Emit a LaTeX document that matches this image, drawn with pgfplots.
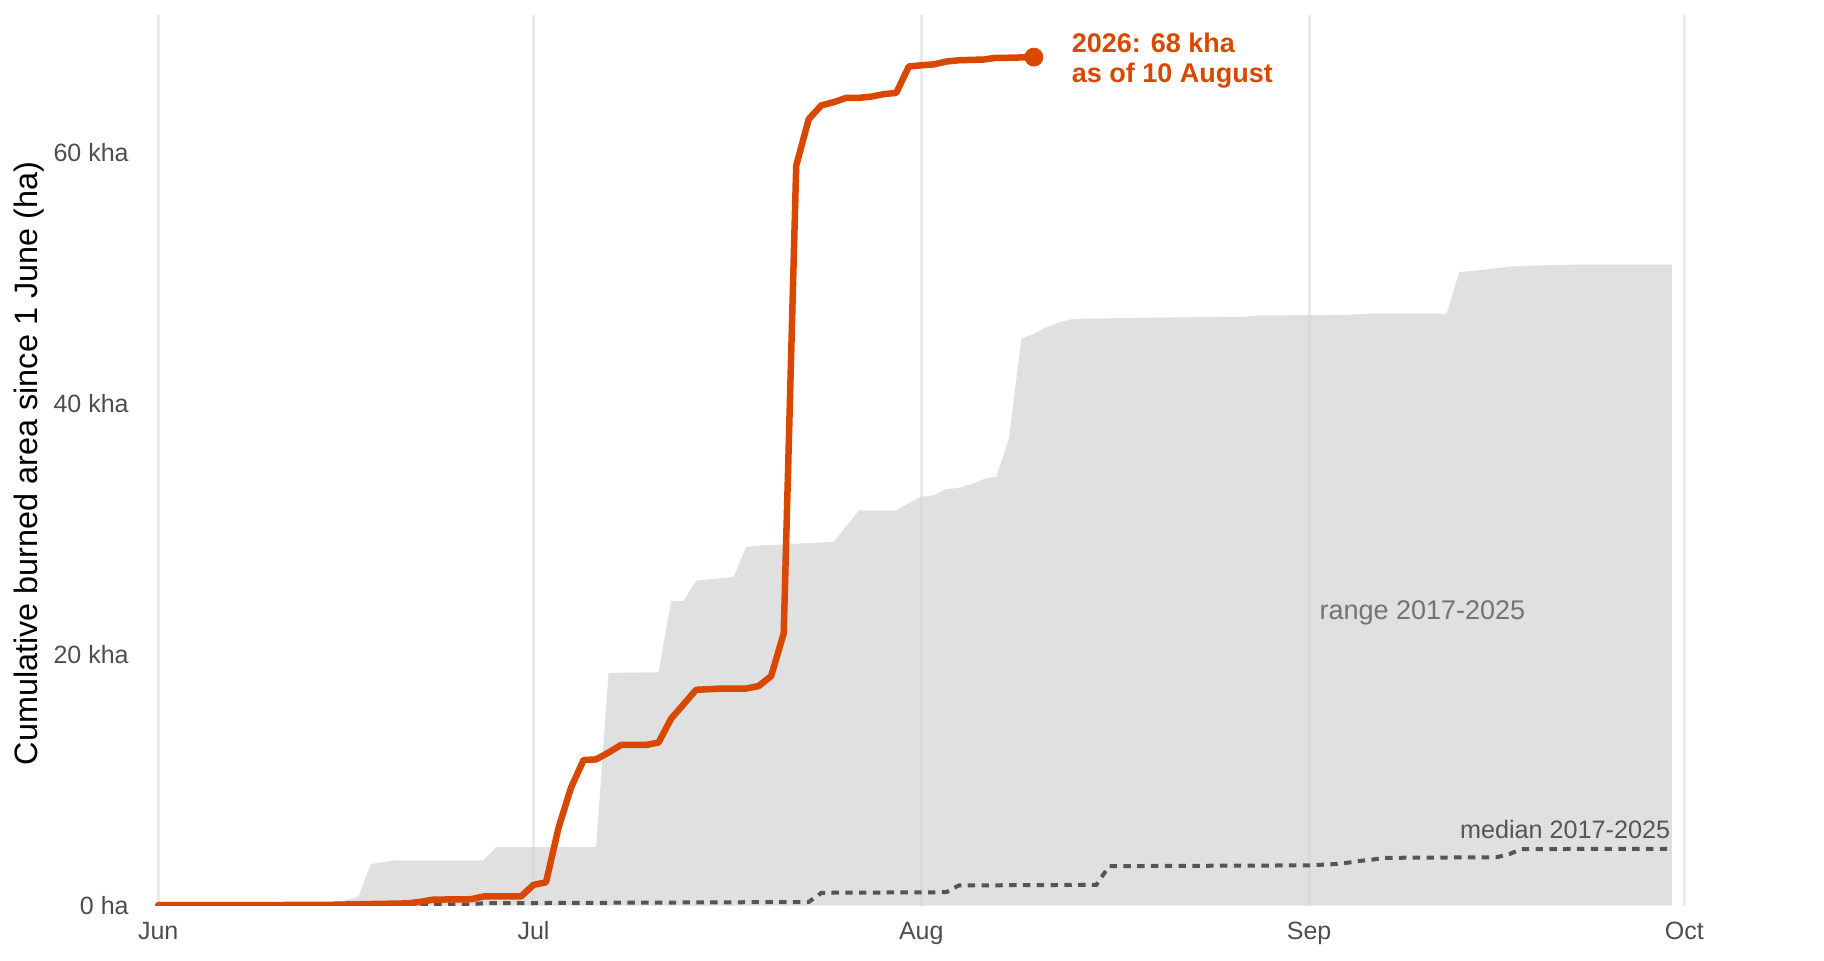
\documentclass[border=0pt]{standalone}
\usepackage{pgfplots}
\pgfplotsset{compat=1.18}
\usepackage{fontspec}
\setmainfont{Liberation Sans}
\definecolor{fireorange}{HTML}{D94801}
\definecolor{ribbonc}{HTML}{D3D3D3}
\definecolor{gridc}{HTML}{EBEBEB}
\definecolor{tickc}{HTML}{4D4D4D}
\definecolor{medc}{HTML}{555555}
\definecolor{rangetext}{HTML}{737373}

\pgfplotstableread{
day val
0 0
8 0.05
12 0.15
14 0.3
15 0.42
16 0.7
17 3.3
18 3.46
19 3.6
26 3.6
27 4.65
35 4.65
36 18.55
40 18.6
41 24.3
42 24.3
43 25.9
46 26.2
47 28.6
48 28.7
50 28.8
52 28.9
54 29.0
55 30.25
56 31.5
59 31.5
60 32.1
61 32.6
62 32.7
63 33.2
64 33.3
65 33.6
66 34.0
67 34.2
68 37.2
69 45.2
70 45.6
71 46.1
72 46.5
73 46.75
74 46.8
82 46.9
87 46.95
88 47.05
95 47.1
97 47.2
103 47.2
104 50.5
105 50.6
106 50.7
108 50.95
109 51.0
113 51.1
121 51.1
}\rangemax

\pgfplotstableread{
day val
0 0
20 0.05
22 0.08
25 0.1
26 0.18
52 0.28
53 1.0
54 1.02
63 1.06
64 1.6
75 1.65
76 3.14
92 3.2
94 3.3
95 3.4
96 3.55
97 3.65
98 3.8
107 3.85
108 4.1
109 4.5
121 4.52
}\median

\pgfplotstableread{
day val
0 0.03
10 0.04
14 0.06
16 0.1
20 0.17
21 0.3
22 0.47
25 0.5
26 0.72
29 0.72
30 1.65
31 1.85
32 6.2
33 9.4
34 11.6
35 11.65
36 12.2
37 12.8
39 12.8
40 13.0
41 14.9
43 17.2
45 17.3
47 17.3
48 17.5
49 18.3
50 21.7
51 59.0
52 62.7
53 63.8
54 64.06
55 64.4
56 64.4
57 64.5
58 64.7
59 64.8
60 66.9
61 67.0
62 67.07
63 67.3
64 67.4
66 67.46
67 67.6
68 67.6
70 67.65
}\current

\begin{document}
\begin{tikzpicture}
\useasboundingbox (0,0) rectangle (912pt,480pt);
\begin{axis}[
  at={(66.6pt,27.25pt)}, anchor=south west,
  scale only axis, width=788.1pt, height=445.2pt,
  xmin=-2, xmax=124, ymin=0, ymax=71,
  axis line style={draw=none},
  major tick length=0pt,
  xtick={0,30,61,92,122}, xticklabels={Jun,Jul,Aug,Sep,Oct},
  ytick={0,20,40,60}, yticklabels={0 ha,20 kha,40 kha,60 kha},
  xmajorgrids, grid style={gridc, line width=1.5pt},
  tick label style={font=\fontsize{12.5}{15}\selectfont, text=tickc},
  xticklabel style={anchor=base, yshift=-17pt},
  yticklabel style={anchor=east, inner sep=0pt, xshift=-2.1pt},
]
\addplot[fill=ribbonc, fill opacity=0.7, draw=none] table[x=day,y=val] {\rangemax} \closedcycle;
\addplot[medc, line width=2pt, dash pattern=on 3.7pt off 3.2pt] table[x=day,y=val] {\median};
\addplot[fireorange, line width=3.25pt, line join=round, line cap=round] table[x=day,y=val] {\current};
\addplot[only marks, mark=*, mark size=4.5pt, fireorange] coordinates {(70,67.65)};
\node[anchor=base west, text=fireorange, font=\fontsize{13.5}{16}\selectfont\bfseries, inner sep=0pt] at (axis cs:73,68.04) {2026: 68 kha};
\node[anchor=base west, text=fireorange, font=\fontsize{13.5}{16}\selectfont\bfseries, inner sep=0pt] at (axis cs:73,65.62) {as of 10 August};
\node[anchor=base west, text=rangetext, font=\fontsize{13.5}{16}\selectfont, inner sep=0pt] at (axis cs:92.8,22.8) {range 2017-2025};
\node[anchor=base east, text=medc, font=\fontsize{12.6}{15}\selectfont, inner sep=0pt] at (axis cs:120.9,5.38) {median 2017-2025};
\end{axis}
\node[rotate=90, font=\fontsize{16.2}{19}\selectfont, inner sep=0pt] at (14.5pt,248.25pt) {Cumulative burned area since 1 June (ha)};
\end{tikzpicture}
\end{document}
